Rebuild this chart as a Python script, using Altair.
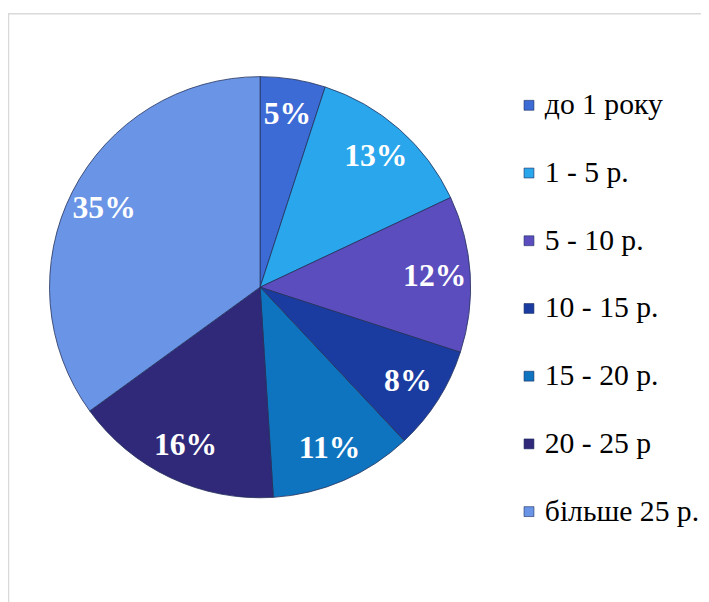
import altair as alt
import pandas as pd

categories = ["до 1 року", "1 - 5 р.", "5 - 10 р.", "10 - 15 р.", "15 - 20 р.", "20 - 25 р", "більше 25 р."]
values = [5, 13, 12, 8, 11, 16, 35]
colors = ["#3D6BD6", "#2AA6EC", "#5B4DBE", "#1A3CA0", "#0F74C0", "#302878", "#6A95E6"]

df = pd.DataFrame({
    "cat": categories,
    "val": values,
    "ord": list(range(len(categories))),
    "lbl": [f"{v}%" for v in values],
})

CX, CY, R = 255, 279, 213
SERIF = "Liberation Serif, Times New Roman, serif"

color = alt.Color(
    "cat:N",
    scale=alt.Scale(domain=categories, range=colors),
    sort=categories,
    legend=alt.Legend(
        title=None,
        orient="none",
        legendX=512,
        legendY=80,
        symbolType="square",
        symbolSize=100,
        labelOffset=1,
        rowPadding=38.5,
        labelLimit=300,
    ),
)

base = alt.Chart(df).encode(
    theta=alt.Theta("val:Q", stack=True),
    order=alt.Order("ord:Q"),
)

arcs = base.mark_arc(outerRadius=R, stroke="#22305a", strokeWidth=0.8).encode(
    color=color,
    x=alt.value(CX),
    y=alt.value(CY),
)

labels = base.mark_text(
    radius=177,
    font=SERIF,
    fontSize=32,
    fontWeight="bold",
    color="white",
).encode(
    text="lbl:N",
    x=alt.value(CX),
    y=alt.value(CY),
)

frame = alt.Chart(pd.DataFrame({"a": [0]})).mark_rect(
    fill=None, stroke="#d9d9d9", strokeWidth=1.5
).encode(
    x=alt.value(0.5), x2=alt.value(720), y=alt.value(2.5), y2=alt.value(620)
)

chart = alt.layer(frame, arcs, labels).properties(
    width=701,
    height=594,
    padding=0,
    autosize=alt.AutoSizeParams(type="none"),
).configure_view(stroke=None).configure_legend(
    labelFont=SERIF,
    labelFontSize=30,
    labelColor="#000000",
    symbolStrokeWidth=0.6,
    symbolStrokeColor="#1a2a60",
)

chart.save("out.html", embed_options={"renderer": "svg", "actions": False})
